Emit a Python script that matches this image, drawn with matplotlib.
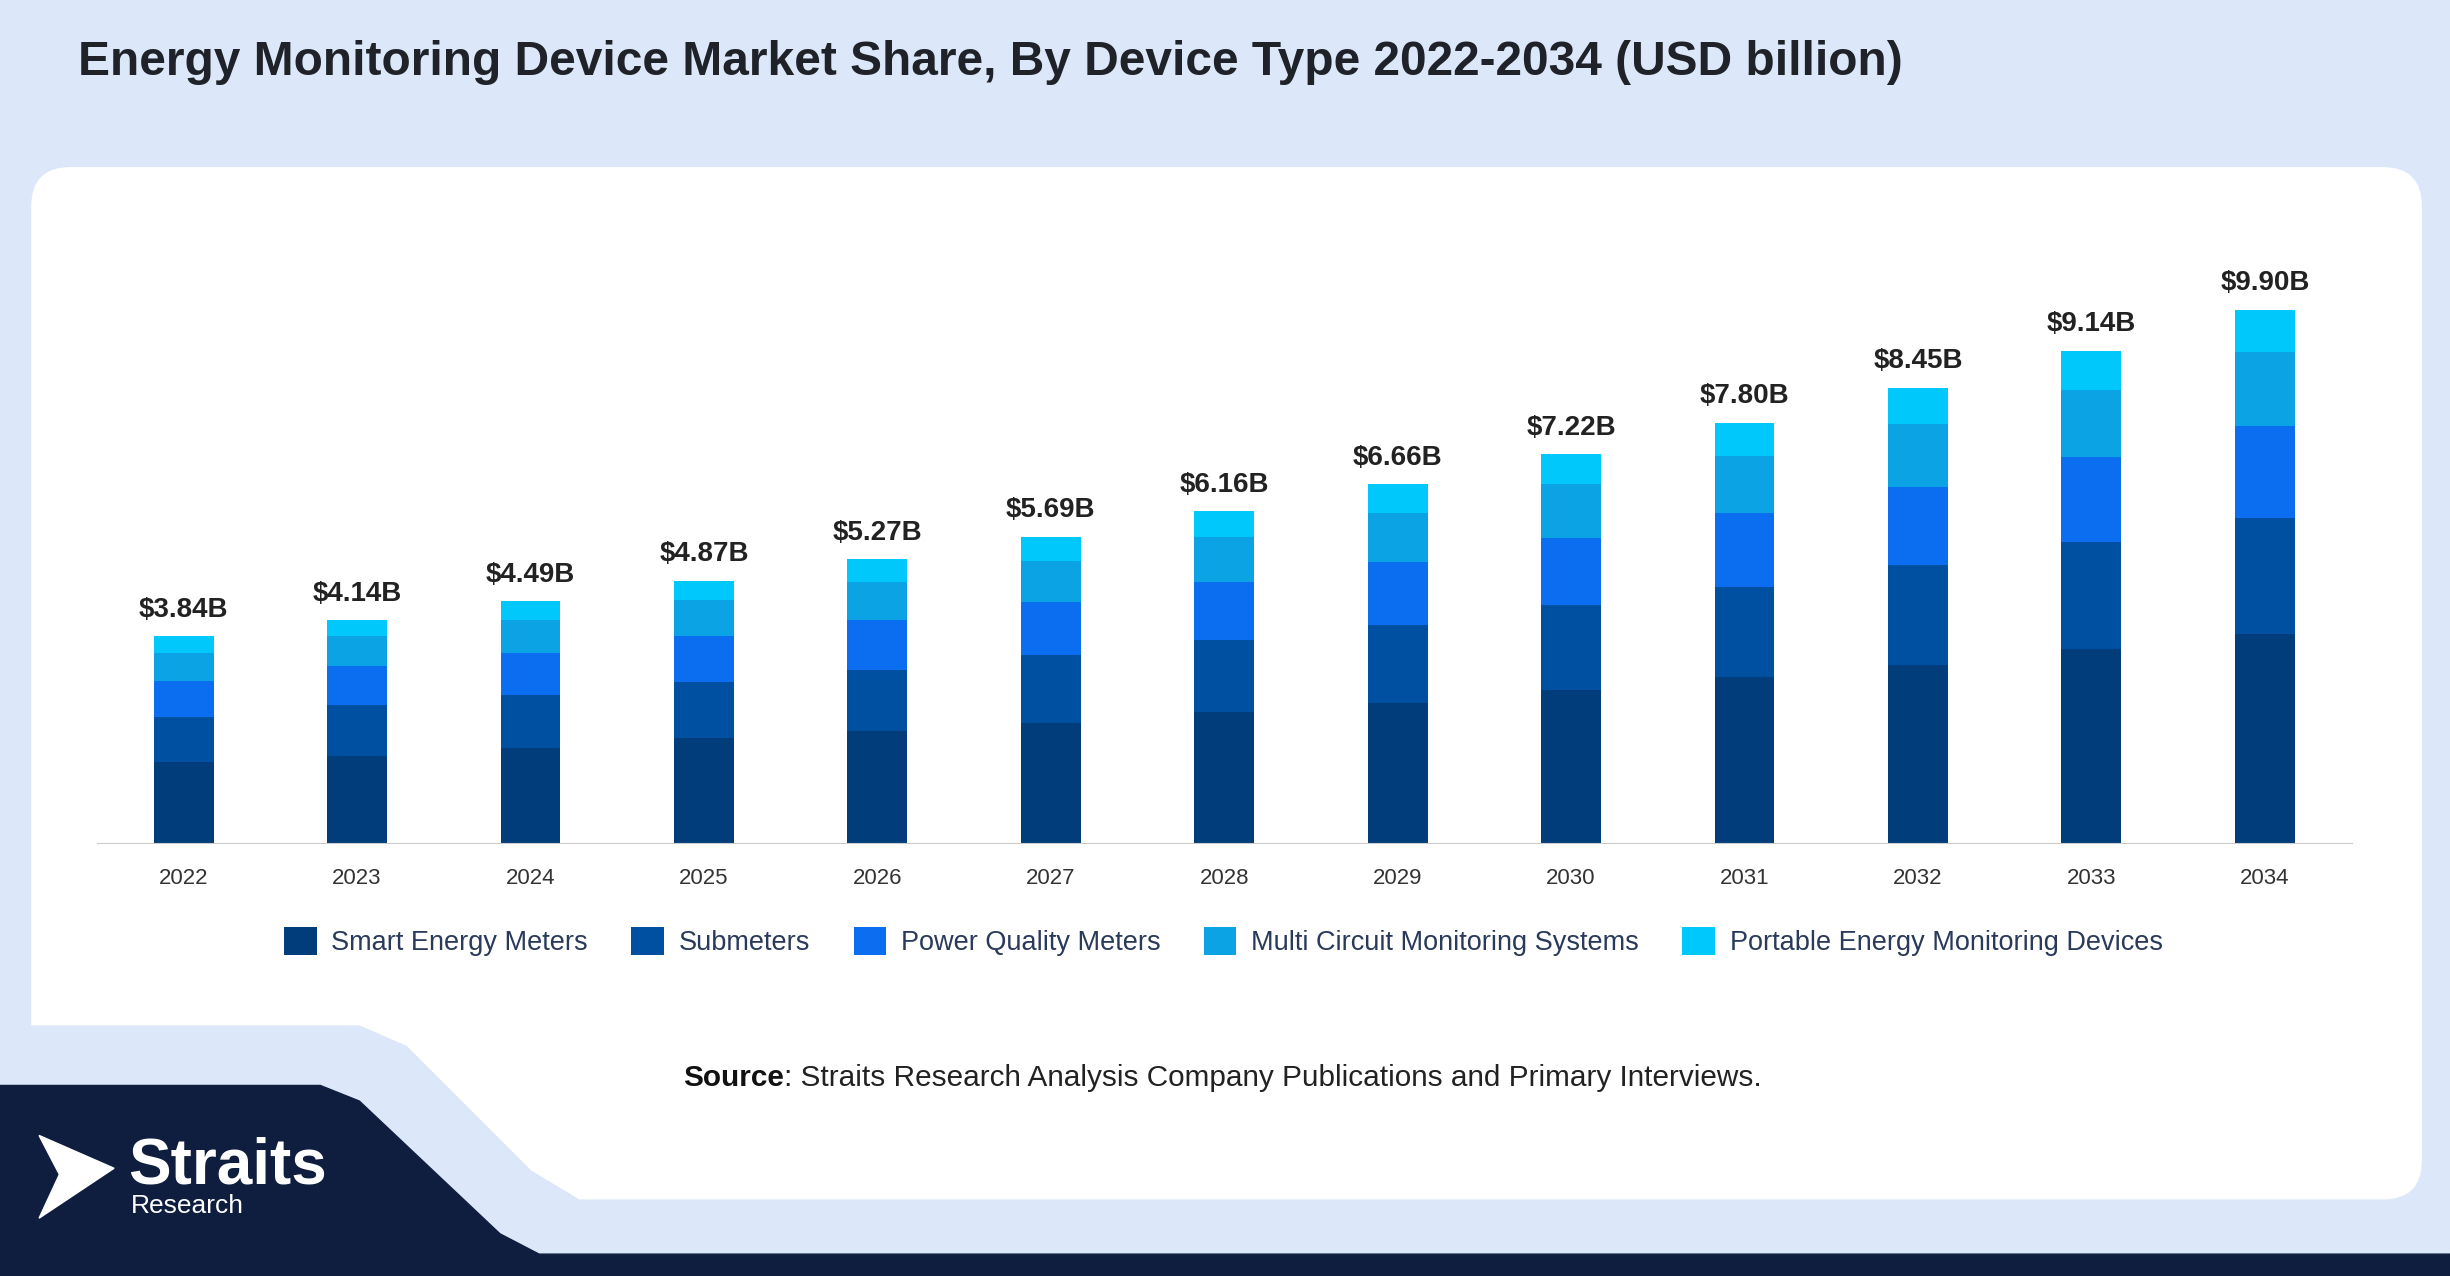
import matplotlib
matplotlib.use("Agg")
import matplotlib.pyplot as plt
from matplotlib.patches import FancyBboxPatch, Polygon
import numpy as np

plt.rcParams['font.family'] = ['Liberation Sans', 'DejaVu Sans']

years = ["2022","2023","2024","2025","2026","2027","2028","2029","2030","2031","2032","2033","2034"]
totals = ["$3.84B","$4.14B","$4.49B","$4.87B","$5.27B","$5.69B","$6.16B","$6.66B","$7.22B","$7.80B","$8.45B","$9.14B","$9.90B"]
series_names = ["Smart Energy Meters","Submeters","Power Quality Meters","Multi Circuit Monitoring Systems","Portable Energy Monitoring Devices"]
smart = [1.51,1.63,1.77,1.95,2.09,2.24,2.44,2.61,2.85,3.08,3.31,3.60,3.89]
sub = [0.84,0.93,0.99,1.05,1.13,1.25,1.34,1.45,1.57,1.68,1.86,2.00,2.15]
pq = [0.67,0.73,0.78,0.84,0.93,0.99,1.07,1.16,1.25,1.36,1.45,1.57,1.71]
multi = [0.52,0.55,0.61,0.67,0.70,0.75,0.84,0.90,0.99,1.07,1.16,1.25,1.36]
portable = [0.30,0.30,0.34,0.36,0.42,0.46,0.47,0.54,0.56,0.61,0.67,0.72,0.79]
colors = ["#003d7a","#0050a2","#0b6df0","#0ba3e3","#00c8fa"]

W, H = 1568, 817
fig = plt.figure(figsize=(24.5, 12.76), dpi=100)
bg = fig.add_axes([0, 0, 1, 1])
bg.set_xlim(0, W); bg.set_ylim(H, 0); bg.axis('off')
bg.add_patch(Polygon([[0,0],[W,0],[W,H],[0,H]], color="#dce8f9"))
bg.add_patch(FancyBboxPatch((20,107), 1530, 661, boxstyle="round,pad=0,rounding_size=25", fc="white", ec="none"))
bg.add_patch(Polygon([[0,657],[230,657],[260,670],[340,750],[370,768],[370,817],[0,817]], color="#dce8f9"))
bg.add_patch(Polygon([[0,695],[205,695],[230,705],[320,790],[345,803],[W,803],[W,H],[0,H]], color="#0f1d3f"))
bg.text(50, 40, "Energy Monitoring Device Market Share, By Device Type 2022-2034 (USD billion)",
        fontsize=34.5, fontweight='bold', color="#1f2329", va='center')
t1 = bg.text(437, 690, "Source", fontsize=21.4, fontweight='bold', ha='left', va='center', color="#111111")
fig.canvas.draw()
bb = t1.get_window_extent().transformed(bg.transData.inverted())
bg.text(bb.x1, 690, ": Straits Research Analysis Company Publications and Primary Interviews.",
        fontsize=21.4, ha='left', va='center', color="#222222")
bg.add_patch(Polygon([[25,727],[73,748],[25,780],[38,752]], color="white"))
bg.text(82, 747, "Straits", fontsize=46, fontweight='bold', color="white", va='center')
bg.text(84, 772, "Research", fontsize=19, color="white", va='center')

ax = fig.add_axes([62/W, 1-540/H, (1505-62)/W, (540-150)/H])
x = np.arange(len(years))
bottom = np.zeros(len(years))
for name, vals, c in zip(series_names, [smart, sub, pq, multi, portable], colors):
    ax.bar(x, vals, 0.345, bottom=bottom, color=c, label=name)
    bottom += np.array(vals)
for xi, b, t in zip(x, bottom, totals):
    ax.text(xi, b + 0.25, t, ha='center', va='bottom', fontsize=20, fontweight='bold', color="#222222")
ax.set_xlim(-0.5, 12.5); ax.set_ylim(0, 11.3)
ax.set_xticks(x); ax.set_xticklabels(years, fontsize=16, color="#333333")
ax.tick_params(length=0, pad=18)
ax.set_yticks([])
for s in ['top','right','left']:
    ax.spines[s].set_visible(False)
ax.spines['bottom'].set_color("#cccccc")
ax.patch.set_alpha(0)
leg = fig.legend(loc='center', bbox_to_anchor=(783/W, 1-603/H), ncol=5, frameon=False,
                 fontsize=19.5, handlelength=1.2, handleheight=1.2, columnspacing=1.6, handletextpad=0.55)
for t in leg.get_texts():
    t.set_color("#2a3a5a")
fig.savefig("out.png", dpi=100)
